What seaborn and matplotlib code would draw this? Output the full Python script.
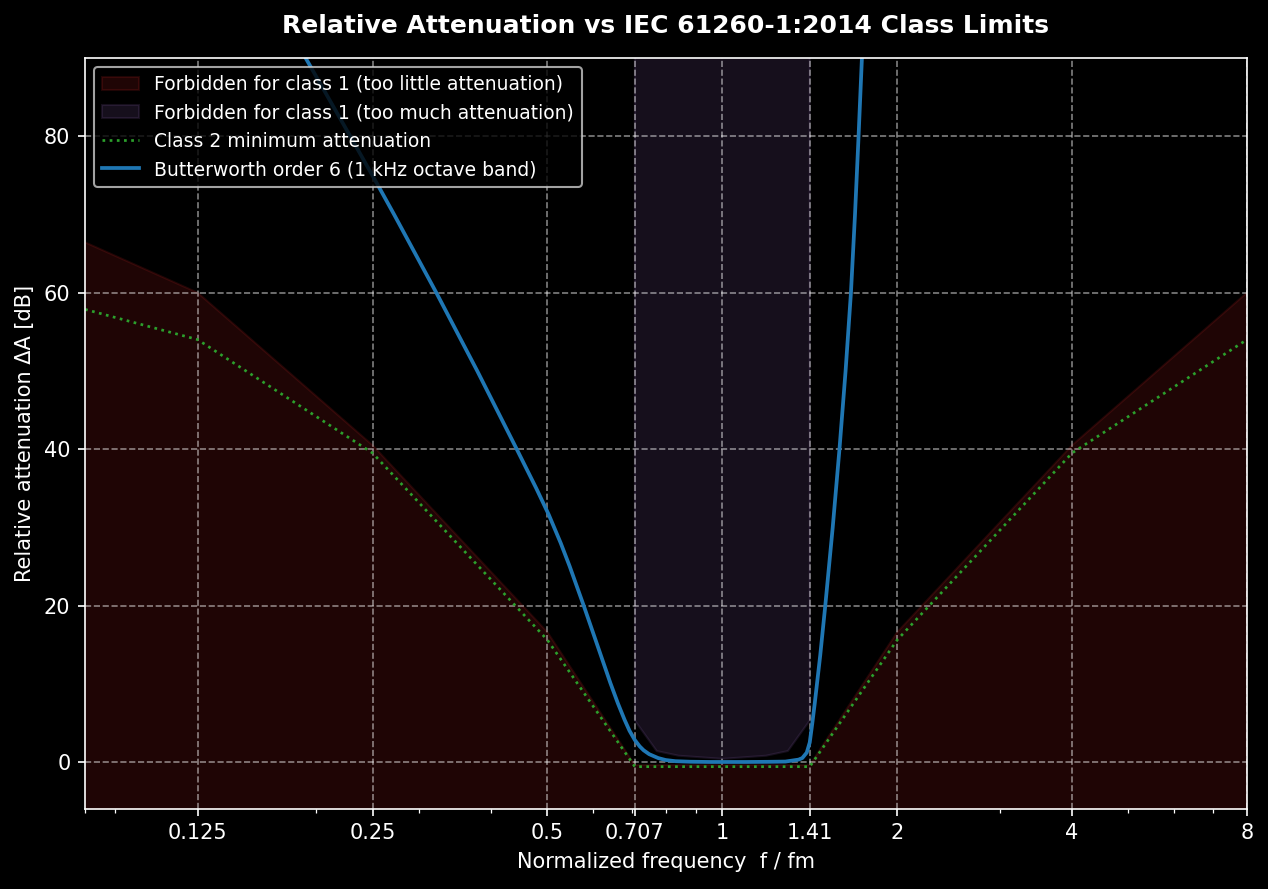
import numpy as np
import pandas as pd
import matplotlib
matplotlib.use("Agg")
import matplotlib.pyplot as plt
import matplotlib.ticker as mticker
import seaborn as sns

# ---- data -----------------------------------------------------------------
# IEC 61260-1:2014 minimum attenuation limits (normalized frequency, dB)
omega_min = [1/16, 1/8, 1/4, 1/2, 2**-0.5, 2**0.5, 2, 4, 8, 16]
class1_min = [70, 60, 40.5, 16.6, -0.4, -0.4, 16.6, 40.5, 60, 70]
class2_min = [60, 54, 39.5, 15.6, -0.6, -0.6, 15.6, 39.5, 54, 60]

# Class 1 maximum attenuation inside the pass band
omega_max = [2**-0.5, 2**-0.375, 2**-0.25, 2**-0.125, 1,
             2**0.125, 2**0.25, 2**0.375, 2**0.5]
class1_max = [5.3, 1.4, 0.8, 0.6, 0.4, 0.6, 0.8, 1.4, 5.3]

# Butterworth order-6 octave band filter response
bw_freq = [0.1918, 0.2289, 0.2547, 0.2723, 0.3219, 0.3786, 0.4434, 0.4783,
           0.5028, 0.5270, 0.5462, 0.5773, 0.6090, 0.6417, 0.6611, 0.6788,
           0.6922, 0.7071, 0.7207, 0.7320, 0.7483, 0.7755, 0.7988, 0.8302,
           0.8810, 0.9535, 1.0000, 1.1000, 1.2000, 1.2840, 1.3530, 1.3730,
           1.3975, 1.4142, 1.4283, 1.4425, 1.4740, 1.5040, 1.5490, 1.5910,
           1.6300, 1.6650, 1.6920, 1.7160, 1.7390]
bw_atten = [90.0, 80.0, 73.9, 70.0, 60.0, 50.0, 39.9, 35.0,
            31.6, 28.0, 25.0, 20.0, 15.0, 10.1, 7.5, 5.4,
            4.0, 2.8, 2.0, 1.5, 1.0, 0.5, 0.25, 0.1,
            0.03, 0.0, 0.0, 0.0, 0.02, 0.05, 0.3, 0.5,
            1.2, 2.5, 4.9, 7.5, 13.6, 20.0, 30.0, 40.0,
            50.0, 60.0, 70.0, 80.0, 90.0]

tick_vals = [0.125, 0.25, 0.5, 2**-0.5, 1, 2**0.5, 2, 4, 8]
tick_labels = ["0.125", "0.25", "0.5", "0.707", "1", "1.41", "2", "4", "8"]

# ---- plot -----------------------------------------------------------------
plt.style.use("dark_background")
plt.rcParams["font.family"] = ["DejaVu Sans"]

fig = plt.figure(figsize=(1268 / 150, 889 / 150), dpi=150)
ax = fig.add_axes([85 / 1268, 1 - 808.9 / 889, (1247 - 85) / 1268, (808.9 - 58) / 889])

ax.fill_between(omega_min, -20, class1_min, color="tab:red", alpha=0.15,
                label="Forbidden for class 1 (too little attenuation)")
ax.fill_between(omega_max, class1_max, 120, color="tab:purple", alpha=0.15,
                label="Forbidden for class 1 (too much attenuation)")

df2 = pd.DataFrame({"f": omega_min, "a": class2_min})
sns.lineplot(data=df2, x="f", y="a", ax=ax, color="tab:green", linestyle=":",
             linewidth=1.3, label="Class 2 minimum attenuation")
dfb = pd.DataFrame({"f": bw_freq, "a": bw_atten})
sns.lineplot(data=dfb, x="f", y="a", ax=ax, color="tab:blue", linewidth=1.8,
             label="Butterworth order 6 (1 kHz octave band)")

ax.set_xscale("log")
ax.set_xlim(0.08, 8)
ax.set_ylim(-6, 90)
ax.set_xticks(tick_vals)
ax.set_xticklabels(tick_labels)
ax.xaxis.set_minor_formatter(mticker.NullFormatter())
ax.set_yticks([0, 20, 40, 60, 80])

ax.grid(True, which="major", linestyle="--", color="white", alpha=0.5, linewidth=0.8)

ax.set_xlabel("Normalized frequency  f / fm", fontsize=10)
ax.set_ylabel("Relative attenuation ΔA [dB]", fontsize=10)
ax.set_title("Relative Attenuation vs IEC 61260-1:2014 Class Limits",
             fontsize=12, fontweight="bold", pad=12)

ax.legend(loc="upper left", fontsize=9)

fig.savefig("out.png", dpi=150, facecolor=fig.get_facecolor())
